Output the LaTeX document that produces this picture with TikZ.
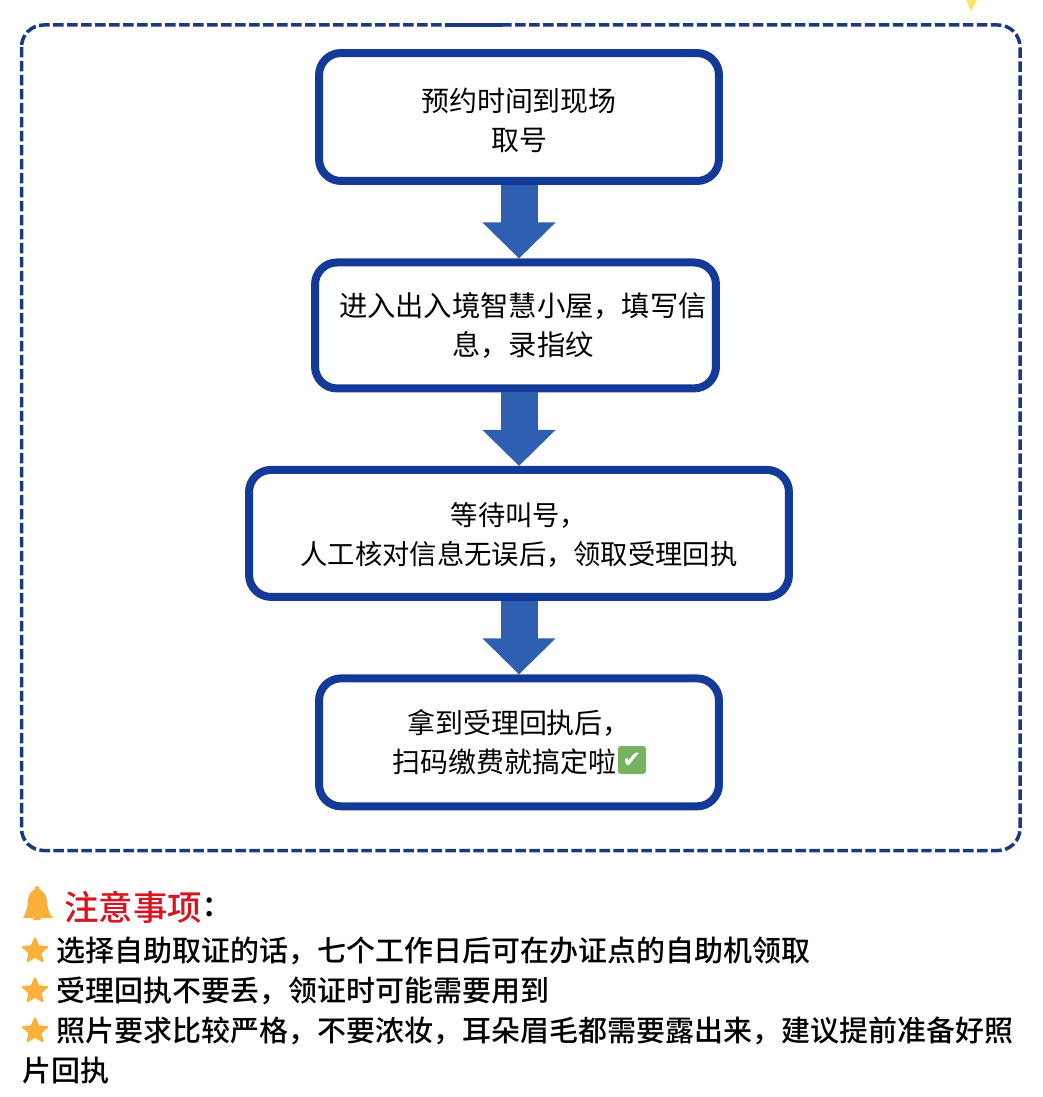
\documentclass[tikz,border=0pt]{standalone}
\usepackage{fontspec}
\setmainfont{Noto Sans CJK SC}
\newfontfamily\titlefont{Noto Sans CJK SC Medium}
\newfontfamily\checkfont{DejaVu Sans}
\usepackage{tikz}
\usetikzlibrary{shapes.geometric, arrows.meta, positioning}
\definecolor{boxblue}{HTML}{123A96}
\definecolor{arrowblue}{HTML}{2F5FB0}
\definecolor{dashblue}{HTML}{1A3A80}
\definecolor{noteorange}{HTML}{FBB03B}
\definecolor{notered}{HTML}{D9141E}
\definecolor{tickgreen}{HTML}{74B360}
\definecolor{tipyellow}{HTML}{FFE26A}
\tikzset{
	box/.style={draw=boxblue, line width=0.16cm, rounded corners=0.44cm, align=center, inner sep=0pt,
		font=\fontsize{15.9}{22.2}\selectfont},
	flow/.style={draw=arrowblue, line width=0.74cm, -{Triangle[length=0.72cm, width=1.42cm, fill=arrowblue]}},
	note/.style={inner sep=0pt, font=\titlefont\fontsize{16.5}{22.4}\selectfont},
	notestar/.style={star, star points=5, star point ratio=2.1, fill=noteorange, draw=noteorange,
		line width=0.03cm, line join=round, inner sep=0pt, minimum size=0.52cm},
}

\begin{document}
\begin{tikzpicture}[x=0.02cm, y=-0.02cm, node distance=1.47cm]
	\useasboundingbox (0,0) rectangle (1042,1097);
	\fill[tipyellow] (966,0) -- (977,0) -- (971,11) -- cycle;
	\draw[dashblue, line width=0.07cm, dash pattern=on 0.21cm off 0.07cm, rounded corners=0.44cm] (21.5,25) rectangle (1020,850.5);
	\draw[dashblue, line width=0.07cm] (445,25) -- (503,25);

	\node[box, minimum width=8cm, minimum height=2.56cm] (a) at (519,117)
		{\rule{0pt}{17.4pt}预约时间到现场\\取号};
	\node[box, below=of a, xshift=-0.07cm, minimum width=8.02cm, minimum height=2.52cm,
		font=\fontsize{16.1}{22.2}\selectfont] (b)
		{\rule{0pt}{13.6pt}\hspace*{8.5pt}进入出入境智慧小屋，填写信\\\hspace*{8.5pt}息，录指纹};
	\node[box, below=of b, xshift=0.07cm, minimum width=10.8cm, minimum height=2.54cm,
		font=\fontsize{15.55}{21.8}\selectfont] (c)
		{\rule{0pt}{15pt}等待叫号，\\人工核对信息无误后，领取受理回执};
	\node[box, below=of c, minimum width=8cm, minimum height=2.56cm] (d)
		{拿到受理回执后，\\扫码缴费就搞定啦\hspace*{16.5pt}};
	\node[fill=tickgreen, text=white, rounded corners=0.06cm, minimum size=0.56cm, inner sep=0pt,
		font=\checkfont\fontsize{13}{13}\selectfont] (tick) at (632,760) {✔};
	\foreach \from/\to in {a/b,b/c,c/d}
		\draw[flow] (a.south |- \from.south) -- (a.south |- \to.north);

	\fill[noteorange] (37,888.5) circle (2.5);
	\fill[noteorange] (37,889) .. controls (29,890) and (28,897) .. (27.5,905)
		.. controls (27,911) and (25,914) .. (23,918) -- (53,918)
		.. controls (50,914) and (48,911) .. (47.5,905)
		.. controls (47,897) and (45,890) .. (37,889) -- cycle;
	\fill[noteorange] (33,920) arc[start angle=180, end angle=360, radius=4] -- cycle;

	\node[anchor=west, inner sep=0pt, text=notered, font=\titlefont\fontsize{19.6}{22}\selectfont] (t) at (64,907) {注意事项};
	\node[right=0.03cm of t, inner sep=0pt, font=\titlefont\fontsize{19.6}{22}\selectfont] (colon) {:};

	\node[notestar] (s1) at (35,951) {};
	\node[notestar] (s2) at (35,991) {};
	\node[notestar] (s3) at (35,1031) {};
	\node[note, right=0.42cm of s1.center] (n1) {选择自助取证的话，七个工作日后可在办证点的自助机领取};
	\node[note, right=0.42cm of s2.center] (n2) {受理回执不要丢，领证时可能需要用到};
	\node[note, right=0.42cm of s3.center] (n3) {照片要求比较严格，不要浓妆，耳朵眉毛都需要露出来，建议提前准备好照};
	\node[note, anchor=west] (n4) at (22,1071) {片回执};
\end{tikzpicture}
\end{document}
